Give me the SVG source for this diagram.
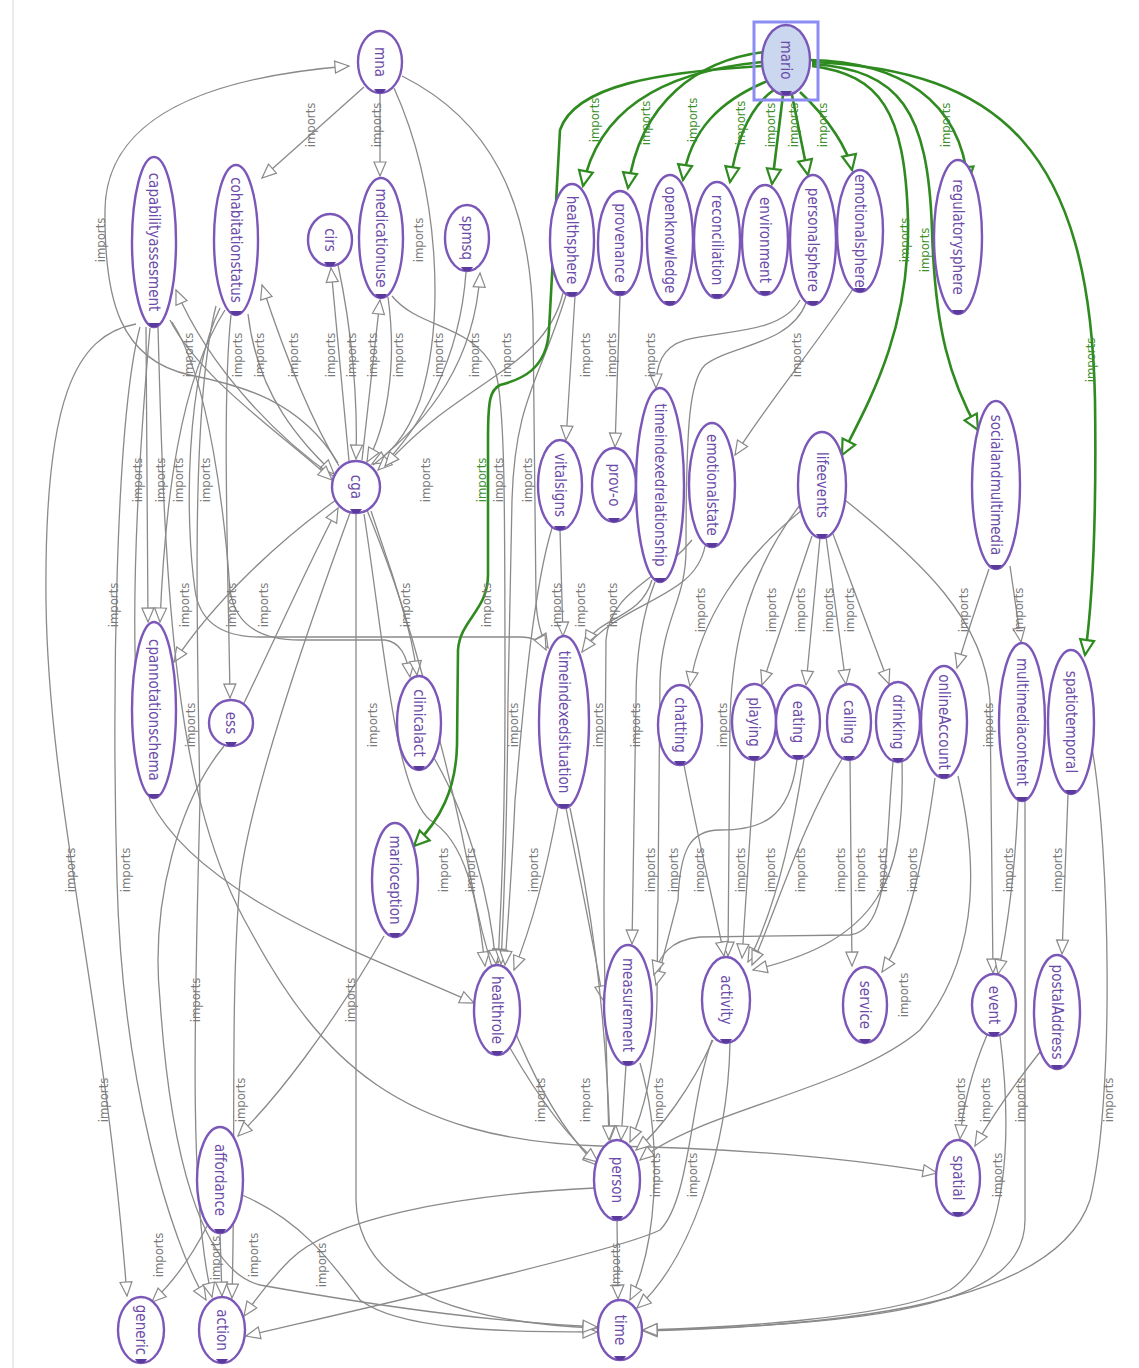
<svg xmlns="http://www.w3.org/2000/svg" width="1139" height="1368" viewBox="0 0 1139 1368">
<style>
.bg{fill:#ffffff}
.n ellipse{fill:#ffffff;stroke:#7b57b8;stroke-width:2.4}
.n .tab{fill:#5b3a9e}
.n text{fill:#6c4ca8;font-family:"DejaVu Sans Condensed","DejaVu Sans","Liberation Sans Narrow",sans-serif;font-stretch:condensed;font-size:15px;text-anchor:middle;dominant-baseline:central}
.e{fill:none;stroke:#8a8a8a;stroke-width:1.3;marker-end:url(#a)}
.g{fill:none;stroke:#2f8a1f;stroke-width:2.6;marker-end:url(#ag)}
.l{fill:#7a7a7a;font-family:"DejaVu Sans Condensed","DejaVu Sans","Liberation Sans Narrow",sans-serif;font-stretch:condensed;font-size:13px;text-anchor:middle;dominant-baseline:central}
.lg{fill:#3d8f2c}
</style>
<defs>
<marker id="a" markerUnits="userSpaceOnUse" markerWidth="16" markerHeight="14" refX="14" refY="6" orient="auto" overflow="visible">
<path d="M0,0 L14,6 L0,12 Z" fill="#ffffff" stroke="#8a8a8a" stroke-width="1.2"/>
</marker>
<marker id="ag" markerUnits="userSpaceOnUse" markerWidth="18" markerHeight="16" refX="15" refY="7" orient="auto" overflow="visible">
<path d="M0,0 L15,7 L0,14 Z" fill="#ffffff" stroke="#2f8a1f" stroke-width="2.2"/>
</marker>
</defs>
<rect class="bg" x="0" y="0" width="1139" height="1368"/>
<line x1="13" y1="0" x2="13" y2="1368" stroke="#d8d8d8" stroke-width="1"/>

<g id="connectors">
<path class="e" d="M338,463 C300,400 240,385 190,375 C120,360 104,300 105,210 C106,120 200,78 349,66"/>
<path class="e" d="M364,87 L262,178"/>
<path class="e" d="M380,93 L380,176"/>
<path class="e" d="M394,88 C440,190 445,320 420,400 C405,440 388,455 372,464"/>
<path class="e" d="M402,76 C490,120 530,200 533,320 L536,600 C537,625 542,638 548,648"/>
<path class="e" d="M349,461 L331,268"/>
<path class="e" d="M338,265 C352,330 358,400 356,459"/>
<path class="e" d="M362,460 L380,300"/>
<path class="e" d="M388,297 C398,370 385,430 367,462"/>
<path class="e" d="M392,296 C420,330 470,322 495,370 C505,400 505,500 505,700 C505,850 500,920 498,963"/>
<path class="e" d="M373,465 C430,420 475,360 480,273"/>
<path class="e" d="M466,272 C460,360 420,430 378,470"/>
<path class="e" d="M339,466 C305,410 280,340 262,285"/>
<path class="e" d="M248,314 C258,400 305,445 334,474"/>
<path class="e" d="M333,476 C280,440 210,370 176,290"/>
<path class="e" d="M170,320 C200,380 290,440 332,480"/>
<path class="e" d="M146,327 L148,622"/>
<path class="e" d="M225,310 C180,380 165,500 160,622"/>
<path class="e" d="M220,308 C185,380 185,520 195,590 C200,625 225,637 260,637 L520,637 C535,637 542,642 546,650"/>
<path class="e" d="M172,322 C210,380 225,520 230,590 C235,625 260,640 300,640 L385,640 C400,642 407,655 410,677"/>
<path class="e" d="M231,315 C222,400 228,560 230,698"/>
<path class="e" d="M244,703 C270,650 310,560 338,508"/>
<path class="e" d="M336,500 C280,540 215,600 174,662"/>
<path class="e" d="M136,324 C75,335 44,400 46,600 C48,800 105,1000 127,1296"/>
<path class="e" d="M140,327 C115,420 112,700 117,880 C122,1080 170,1240 206,1300"/>
<path class="e" d="M150,328 C135,500 125,700 150,800 C200,900 380,960 474,1003"/>
<path class="e" d="M158,327 C165,600 175,800 250,930 C320,1060 400,1140 600,1146 C750,1148 860,1160 937,1173"/>
<path class="e" d="M216,306 C192,400 196,600 200,800 C195,1000 188,1200 212,1297"/>
<path class="e" d="M350,513 C300,650 250,800 240,880 C230,1000 236,1150 232,1298"/>
<path class="e" d="M356,514 L356,1200 C358,1285 450,1322 597,1328"/>
<path class="e" d="M367,510 C395,580 412,630 417,675"/>
<path class="e" d="M364,514 C385,650 395,790 430,820 C465,840 478,900 485,966"/>
<path class="e" d="M371,511 C430,680 460,820 475,900 C500,1020 550,1120 597,1165"/>
<path class="e" d="M434,758 C470,820 490,900 496,964"/>
<path class="e" d="M563,293 C545,370 460,380 385,466"/>
<path class="e" d="M575,296 L566,440"/>
<path class="e" d="M566,295 C540,380 515,400 512,500 L508,700 C507,850 503,920 501,964"/>
<path class="e" d="M620,295 L615,447"/>
<path class="e" d="M800,300 C780,335 720,330 685,340 C662,347 656,365 656,388"/>
<path class="e" d="M806,303 C790,345 730,345 705,365 C690,380 686,420 686,550 C686,600 662,620 660,680 L657,1000 C655,1080 640,1120 630,1142"/>
<path class="e" d="M853,289 C820,340 770,400 735,455"/>
<path class="e" d="M560,530 L563,636"/>
<path class="e" d="M552,528 C530,600 520,750 515,800 C512,870 508,920 505,965"/>
<path class="e" d="M652,580 C640,620 600,615 585,645"/>
<path class="e" d="M705,546 C695,600 620,600 582,652"/>
<path class="e" d="M566,808 C580,880 595,950 603,1000"/>
<path class="e" d="M558,807 C545,880 530,930 514,970"/>
<path class="e" d="M570,808 C590,900 605,1000 610,1140"/>
<path class="e" d="M655,582 C640,620 636,660 636,700 L632,944"/>
<path class="e" d="M692,540 C660,580 610,590 606,640 L604,900 C604,1000 608,1100 609,1140"/>
<path class="e" d="M797,759 C790,820 760,830 720,830 C690,830 680,850 678,900 L656,985"/>
<path class="e" d="M893,762 C885,850 890,930 850,935 L700,937 C670,940 660,955 654,975"/>
<path class="e" d="M802,510 C740,560 700,620 690,686"/>
<path class="e" d="M812,536 L762,685"/>
<path class="e" d="M820,538 L806,685"/>
<path class="e" d="M826,537 L846,684"/>
<path class="e" d="M833,534 L889,684"/>
<path class="e" d="M800,505 C750,570 732,640 730,720 L728,956"/>
<path class="e" d="M845,500 C920,560 985,620 990,700 L993,973"/>
<path class="e" d="M684,765 C700,850 718,920 724,956"/>
<path class="e" d="M755,760 L742,958"/>
<path class="e" d="M804,759 C790,850 770,920 748,962"/>
<path class="e" d="M842,759 C800,830 780,900 752,965"/>
<path class="e" d="M902,762 C905,880 880,940 753,970"/>
<path class="e" d="M850,760 L852,966"/>
<path class="e" d="M935,778 C925,850 910,930 882,972"/>
<path class="e" d="M958,776 C975,850 985,950 920,1030 C850,1090 700,1110 640,1160"/>
<path class="e" d="M989,569 C975,610 965,640 957,668"/>
<path class="e" d="M1010,566 L1021,642"/>
<path class="e" d="M1018,801 C1015,880 1005,940 998,974"/>
<path class="e" d="M1025,801 L1025,1220 C1025,1300 900,1325 643,1330"/>
<path class="e" d="M1068,794 L1062,954"/>
<path class="e" d="M1092,748 C1110,850 1115,1100 1090,1200 C1060,1290 900,1325 643,1331"/>
<path class="e" d="M1040,1052 C1010,1090 990,1120 975,1146"/>
<path class="e" d="M987,1035 C972,1070 962,1110 960,1139"/>
<path class="e" d="M1000,1036 C1012,1130 1010,1250 950,1290 C880,1320 720,1328 643,1330"/>
<path class="e" d="M510,1048 C540,1100 570,1140 598,1162"/>
<path class="e" d="M626,1065 L621,1140"/>
<path class="e" d="M713,1040 C690,1090 660,1130 636,1150"/>
<path class="e" d="M730,1043 C728,1150 690,1260 637,1308"/>
<path class="e" d="M640,1063 C665,1150 655,1250 630,1300"/>
<path class="e" d="M617,1220 L618,1299"/>
<path class="e" d="M595,1188 C450,1195 330,1220 290,1260 C270,1280 255,1300 244,1316"/>
<path class="e" d="M712,1040 C690,1100 690,1200 660,1230 C620,1250 400,1300 246,1336"/>
<path class="e" d="M207,1226 C190,1260 170,1285 152,1302"/>
<path class="e" d="M220,1233 L222,1296"/>
<path class="e" d="M242,1195 C300,1220 330,1260 360,1300 C400,1330 500,1332 597,1332"/>
<path class="e" d="M384,936 C330,1030 275,1100 238,1136"/>
<path class="e" d="M224,746 C180,800 150,900 160,1000 C170,1150 200,1270 260,1285 C400,1310 500,1322 597,1327"/>

<path class="g" d="M762,62 C680,70 600,100 583,186"/>
<path class="g" d="M764,52 C700,60 640,100 628,188"/>
<path class="g" d="M770,80 C720,100 690,130 683,180"/>
<path class="g" d="M775,89 C745,110 735,150 730,182"/>
<path class="g" d="M783,95 L772,184"/>
<path class="g" d="M792,95 L808,175"/>
<path class="g" d="M800,92 C830,120 848,150 852,170"/>
<path class="g" d="M810,60 C900,62 960,100 968,182"/>
<path class="g" d="M812,66 C880,75 905,110 908,220 C910,330 870,400 842,455"/>
<path class="g" d="M812,64 C900,70 928,110 932,230 C935,330 950,380 978,430"/>
<path class="g" d="M812,62 C1000,70 1090,150 1095,400 C1097,550 1090,620 1085,655"/>
<path class="g" d="M762,66 C660,72 575,85 560,130 L549,330 C547,370 520,380 500,385 C490,390 488,400 488,440 L488,575 C488,610 460,620 458,650 L457,745 C456,790 440,820 414,846"/>
</g>

<g id="edge-labels">
<text class="l" x="310" y="125" transform="rotate(-90 310 125)">imports</text>
<text class="l" x="376" y="125" transform="rotate(-90 376 125)">imports</text>
<text class="l" x="100" y="240" transform="rotate(-90 100 240)">imports</text>
<text class="l" x="418" y="240" transform="rotate(-90 418 240)">imports</text>
<text class="l" x="188" y="355" transform="rotate(-90 188 355)">imports</text>
<text class="l" x="237" y="355" transform="rotate(-90 237 355)">imports</text>
<text class="l" x="259" y="355" transform="rotate(-90 259 355)">imports</text>
<text class="l" x="293" y="355" transform="rotate(-90 293 355)">imports</text>
<text class="l" x="330" y="355" transform="rotate(-90 330 355)">imports</text>
<text class="l" x="351" y="355" transform="rotate(-90 351 355)">imports</text>
<text class="l" x="372" y="355" transform="rotate(-90 372 355)">imports</text>
<text class="l" x="398" y="355" transform="rotate(-90 398 355)">imports</text>
<text class="l" x="438" y="355" transform="rotate(-90 438 355)">imports</text>
<text class="l" x="474" y="355" transform="rotate(-90 474 355)">imports</text>
<text class="l" x="506" y="355" transform="rotate(-90 506 355)">imports</text>
<text class="l" x="585" y="355" transform="rotate(-90 585 355)">imports</text>
<text class="l" x="611" y="355" transform="rotate(-90 611 355)">imports</text>
<text class="l" x="650" y="355" transform="rotate(-90 650 355)">imports</text>
<text class="l" x="796" y="355" transform="rotate(-90 796 355)">imports</text>
<text class="l" x="137" y="480" transform="rotate(-90 137 480)">imports</text>
<text class="l" x="160" y="480" transform="rotate(-90 160 480)">imports</text>
<text class="l" x="178" y="480" transform="rotate(-90 178 480)">imports</text>
<text class="l" x="205" y="480" transform="rotate(-90 205 480)">imports</text>
<text class="l" x="425" y="480" transform="rotate(-90 425 480)">imports</text>
<text class="l" x="498" y="480" transform="rotate(-90 498 480)">imports</text>
<text class="l" x="527" y="480" transform="rotate(-90 527 480)">imports</text>
<text class="l" x="113" y="605" transform="rotate(-90 113 605)">imports</text>
<text class="l" x="184" y="605" transform="rotate(-90 184 605)">imports</text>
<text class="l" x="231" y="605" transform="rotate(-90 231 605)">imports</text>
<text class="l" x="263" y="605" transform="rotate(-90 263 605)">imports</text>
<text class="l" x="405" y="605" transform="rotate(-90 405 605)">imports</text>
<text class="l" x="486" y="605" transform="rotate(-90 486 605)">imports</text>
<text class="l" x="556" y="605" transform="rotate(-90 556 605)">imports</text>
<text class="l" x="580" y="605" transform="rotate(-90 580 605)">imports</text>
<text class="l" x="612" y="605" transform="rotate(-90 612 605)">imports</text>
<text class="l" x="700" y="610" transform="rotate(-90 700 610)">imports</text>
<text class="l" x="771" y="610" transform="rotate(-90 771 610)">imports</text>
<text class="l" x="800" y="610" transform="rotate(-90 800 610)">imports</text>
<text class="l" x="828" y="610" transform="rotate(-90 828 610)">imports</text>
<text class="l" x="849" y="610" transform="rotate(-90 849 610)">imports</text>
<text class="l" x="963" y="610" transform="rotate(-90 963 610)">imports</text>
<text class="l" x="1018" y="610" transform="rotate(-90 1018 610)">imports</text>
<text class="l" x="190" y="725" transform="rotate(-90 190 725)">imports</text>
<text class="l" x="372" y="725" transform="rotate(-90 372 725)">imports</text>
<text class="l" x="513" y="725" transform="rotate(-90 513 725)">imports</text>
<text class="l" x="598" y="725" transform="rotate(-90 598 725)">imports</text>
<text class="l" x="635" y="725" transform="rotate(-90 635 725)">imports</text>
<text class="l" x="722" y="725" transform="rotate(-90 722 725)">imports</text>
<text class="l" x="988" y="725" transform="rotate(-90 988 725)">imports</text>
<text class="l" x="70" y="870" transform="rotate(-90 70 870)">imports</text>
<text class="l" x="125" y="870" transform="rotate(-90 125 870)">imports</text>
<text class="l" x="443" y="870" transform="rotate(-90 443 870)">imports</text>
<text class="l" x="470" y="870" transform="rotate(-90 470 870)">imports</text>
<text class="l" x="533" y="870" transform="rotate(-90 533 870)">imports</text>
<text class="l" x="650" y="870" transform="rotate(-90 650 870)">imports</text>
<text class="l" x="673" y="870" transform="rotate(-90 673 870)">imports</text>
<text class="l" x="699" y="870" transform="rotate(-90 699 870)">imports</text>
<text class="l" x="740" y="870" transform="rotate(-90 740 870)">imports</text>
<text class="l" x="770" y="870" transform="rotate(-90 770 870)">imports</text>
<text class="l" x="800" y="870" transform="rotate(-90 800 870)">imports</text>
<text class="l" x="840" y="870" transform="rotate(-90 840 870)">imports</text>
<text class="l" x="860" y="870" transform="rotate(-90 860 870)">imports</text>
<text class="l" x="882" y="870" transform="rotate(-90 882 870)">imports</text>
<text class="l" x="912" y="870" transform="rotate(-90 912 870)">imports</text>
<text class="l" x="1008" y="870" transform="rotate(-90 1008 870)">imports</text>
<text class="l" x="1057" y="870" transform="rotate(-90 1057 870)">imports</text>
<text class="l" x="195" y="1000" transform="rotate(-90 195 1000)">imports</text>
<text class="l" x="350" y="1000" transform="rotate(-90 350 1000)">imports</text>
<text class="l" x="903" y="995" transform="rotate(-90 903 995)">imports</text>
<text class="l" x="103" y="1100" transform="rotate(-90 103 1100)">imports</text>
<text class="l" x="240" y="1100" transform="rotate(-90 240 1100)">imports</text>
<text class="l" x="540" y="1100" transform="rotate(-90 540 1100)">imports</text>
<text class="l" x="585" y="1100" transform="rotate(-90 585 1100)">imports</text>
<text class="l" x="658" y="1100" transform="rotate(-90 658 1100)">imports</text>
<text class="l" x="960" y="1100" transform="rotate(-90 960 1100)">imports</text>
<text class="l" x="985" y="1100" transform="rotate(-90 985 1100)">imports</text>
<text class="l" x="1020" y="1100" transform="rotate(-90 1020 1100)">imports</text>
<text class="l" x="1108" y="1100" transform="rotate(-90 1108 1100)">imports</text>
<text class="l" x="655" y="1175" transform="rotate(-90 655 1175)">imports</text>
<text class="l" x="692" y="1175" transform="rotate(-90 692 1175)">imports</text>
<text class="l" x="997" y="1175" transform="rotate(-90 997 1175)">imports</text>
<text class="l" x="158" y="1255" transform="rotate(-90 158 1255)">imports</text>
<text class="l" x="215" y="1258" transform="rotate(-90 215 1258)">imports</text>
<text class="l" x="253" y="1255" transform="rotate(-90 253 1255)">imports</text>
<text class="l" x="321" y="1265" transform="rotate(-90 321 1265)">imports</text>
<text class="l" x="615" y="1265" transform="rotate(-90 615 1265)">imports</text>
<text class="l lg" x="594" y="120" transform="rotate(-90 594 120)">imports</text>
<text class="l lg" x="645" y="123" transform="rotate(-90 645 123)">imports</text>
<text class="l lg" x="692" y="120" transform="rotate(-90 692 120)">imports</text>
<text class="l lg" x="740" y="123" transform="rotate(-90 740 123)">imports</text>
<text class="l lg" x="770" y="125" transform="rotate(-90 770 125)">imports</text>
<text class="l lg" x="793" y="125" transform="rotate(-90 793 125)">imports</text>
<text class="l lg" x="822" y="125" transform="rotate(-90 822 125)">imports</text>
<text class="l lg" x="945" y="125" transform="rotate(-90 945 125)">imports</text>
<text class="l lg" x="904" y="240" transform="rotate(-90 904 240)">imports</text>
<text class="l lg" x="924" y="250" transform="rotate(-90 924 250)">imports</text>
<text class="l lg" x="1090" y="360" transform="rotate(-90 1090 360)">imports</text>
<text class="l lg" x="481" y="480" transform="rotate(-90 481 480)">imports</text>
</g>

<g id="node-mna" class="n"><ellipse cx="380" cy="62" rx="22" ry="31"/><path class="tab" d="M374,89 L386,89 L383,93 L377,93Z"/><text x="380" y="62" transform="rotate(90 380 62)">mna</text></g>
<g id="node-mario" class="n"><rect x="754" y="22" width="64" height="78" fill="none" stroke="#8c8cf5" stroke-width="3"/><ellipse cx="786" cy="60" rx="24" ry="35" style="fill:#cad7ef"/><path class="tab" d="M780,91 L792,91 L789,95 L783,95Z"/><text x="786" y="60" transform="rotate(90 786 60)">mario</text></g>
<g id="node-capabilityassesment" class="n"><ellipse cx="154" cy="242" rx="22" ry="85"/><path class="tab" d="M148,323 L160,323 L157,327 L151,327Z"/><text x="154" y="242" transform="rotate(90 154 242)">capabilityassesment</text></g>
<g id="node-cohabitationstatus" class="n"><ellipse cx="236" cy="240" rx="22" ry="75"/><path class="tab" d="M230,311 L242,311 L239,315 L233,315Z"/><text x="236" y="240" transform="rotate(90 236 240)">cohabitationstatus</text></g>
<g id="node-cirs" class="n"><ellipse cx="330" cy="240" rx="22" ry="26"/><path class="tab" d="M324,262 L336,262 L333,266 L327,266Z"/><text x="330" y="240" transform="rotate(90 330 240)">cirs</text></g>
<g id="node-medicationuse" class="n"><ellipse cx="381" cy="238" rx="22" ry="60"/><path class="tab" d="M375,294 L387,294 L384,298 L378,298Z"/><text x="381" y="238" transform="rotate(90 381 238)">medicationuse</text></g>
<g id="node-spmsq" class="n"><ellipse cx="467" cy="238" rx="22" ry="33"/><path class="tab" d="M461,267 L473,267 L470,271 L464,271Z"/><text x="467" y="238" transform="rotate(90 467 238)">spmsq</text></g>
<g id="node-healthsphere" class="n"><ellipse cx="572" cy="240" rx="22" ry="56"/><path class="tab" d="M566,292 L578,292 L575,296 L569,296Z"/><text x="572" y="240" transform="rotate(90 572 240)">healthsphere</text></g>
<g id="node-provenance" class="n"><ellipse cx="620" cy="243" rx="22" ry="52"/><path class="tab" d="M614,291 L626,291 L623,295 L617,295Z"/><text x="620" y="243" transform="rotate(90 620 243)">provenance</text></g>
<g id="node-openknowledge" class="n"><ellipse cx="670" cy="240" rx="23" ry="65"/><path class="tab" d="M664,301 L676,301 L673,305 L667,305Z"/><text x="670" y="240" transform="rotate(90 670 240)">openknowledge</text></g>
<g id="node-reconciliation" class="n"><ellipse cx="717" cy="240" rx="23" ry="58"/><path class="tab" d="M711,294 L723,294 L720,298 L714,298Z"/><text x="717" y="240" transform="rotate(90 717 240)">reconciliation</text></g>
<g id="node-environment" class="n"><ellipse cx="765" cy="240" rx="23" ry="55"/><path class="tab" d="M759,291 L771,291 L768,295 L762,295Z"/><text x="765" y="240" transform="rotate(90 765 240)">environment</text></g>
<g id="node-personalsphere" class="n"><ellipse cx="813" cy="240" rx="23" ry="65"/><path class="tab" d="M807,301 L819,301 L816,305 L810,305Z"/><text x="813" y="240" transform="rotate(90 813 240)">personalsphere</text></g>
<g id="node-emotionalsphere" class="n"><ellipse cx="860" cy="231" rx="23" ry="61"/><path class="tab" d="M854,288 L866,288 L863,292 L857,292Z"/><text x="860" y="231" transform="rotate(90 860 231)">emotionalsphere</text></g>
<g id="node-regulatorysphere" class="n"><ellipse cx="958" cy="237" rx="24" ry="77"/><path class="tab" d="M952,310 L964,310 L961,314 L955,314Z"/><text x="958" y="237" transform="rotate(90 958 237)">regulatorysphere</text></g>
<g id="node-cga" class="n"><ellipse cx="356" cy="487" rx="24" ry="26"/><path class="tab" d="M350,509 L362,509 L359,513 L353,513Z"/><text x="356" y="487" transform="rotate(90 356 487)">cga</text></g>
<g id="node-vitalsigns" class="n"><ellipse cx="560" cy="485" rx="22" ry="45"/><path class="tab" d="M554,526 L566,526 L563,530 L557,530Z"/><text x="560" y="485" transform="rotate(90 560 485)">vitalsigns</text></g>
<g id="node-prov-o" class="n"><ellipse cx="614" cy="485" rx="22" ry="37"/><path class="tab" d="M608,518 L620,518 L617,522 L611,522Z"/><text x="614" y="485" transform="rotate(90 614 485)">prov-o</text></g>
<g id="node-timeindexedrelationship" class="n"><ellipse cx="660" cy="485" rx="24" ry="97"/><path class="tab" d="M654,578 L666,578 L663,582 L657,582Z"/><text x="660" y="485" transform="rotate(90 660 485)">timeindexedrelationship</text></g>
<g id="node-emotionalstate" class="n"><ellipse cx="712" cy="485" rx="23" ry="62"/><path class="tab" d="M706,543 L718,543 L715,547 L709,547Z"/><text x="712" y="485" transform="rotate(90 712 485)">emotionalstate</text></g>
<g id="node-lifeevents" class="n"><ellipse cx="822" cy="485" rx="24" ry="53"/><path class="tab" d="M816,534 L828,534 L825,538 L819,538Z"/><text x="822" y="485" transform="rotate(90 822 485)">lifeevents</text></g>
<g id="node-socialandmultimedia" class="n"><ellipse cx="996" cy="485" rx="24" ry="84"/><path class="tab" d="M990,565 L1002,565 L999,569 L993,569Z"/><text x="996" y="485" transform="rotate(90 996 485)">socialandmultimedia</text></g>
<g id="node-cpannotationschema" class="n"><ellipse cx="154" cy="710" rx="22" ry="88"/><path class="tab" d="M148,794 L160,794 L157,798 L151,798Z"/><text x="154" y="710" transform="rotate(90 154 710)">cpannotationschema</text></g>
<g id="node-ess" class="n"><ellipse cx="231" cy="723" rx="22" ry="23"/><path class="tab" d="M225,742 L237,742 L234,746 L228,746Z"/><text x="231" y="723" transform="rotate(90 231 723)">ess</text></g>
<g id="node-clinicalact" class="n"><ellipse cx="419" cy="723" rx="22" ry="47"/><path class="tab" d="M413,766 L425,766 L422,770 L416,770Z"/><text x="419" y="723" transform="rotate(90 419 723)">clinicalact</text></g>
<g id="node-timeindexedsituation" class="n"><ellipse cx="564" cy="722" rx="25" ry="86"/><path class="tab" d="M558,804 L570,804 L567,808 L561,808Z"/><text x="564" y="722" transform="rotate(90 564 722)">timeindexedsituation</text></g>
<g id="node-chatting" class="n"><ellipse cx="680" cy="725" rx="22" ry="40"/><path class="tab" d="M674,761 L686,761 L683,765 L677,765Z"/><text x="680" y="725" transform="rotate(90 680 725)">chatting</text></g>
<g id="node-playing" class="n"><ellipse cx="754" cy="722" rx="22" ry="38"/><path class="tab" d="M748,756 L760,756 L757,760 L751,760Z"/><text x="754" y="722" transform="rotate(90 754 722)">playing</text></g>
<g id="node-eating" class="n"><ellipse cx="798" cy="722" rx="22" ry="37"/><path class="tab" d="M792,755 L804,755 L801,759 L795,759Z"/><text x="798" y="722" transform="rotate(90 798 722)">eating</text></g>
<g id="node-calling" class="n"><ellipse cx="849" cy="722" rx="22" ry="38"/><path class="tab" d="M843,756 L855,756 L852,760 L846,760Z"/><text x="849" y="722" transform="rotate(90 849 722)">calling</text></g>
<g id="node-drinking" class="n"><ellipse cx="898" cy="722" rx="22" ry="40"/><path class="tab" d="M892,758 L904,758 L901,762 L895,762Z"/><text x="898" y="722" transform="rotate(90 898 722)">drinking</text></g>
<g id="node-onlineAccount" class="n"><ellipse cx="944" cy="722" rx="23" ry="56"/><path class="tab" d="M938,774 L950,774 L947,778 L941,778Z"/><text x="944" y="722" transform="rotate(90 944 722)">onlineAccount</text></g>
<g id="node-multimediacontent" class="n"><ellipse cx="1022" cy="722" rx="23" ry="79"/><path class="tab" d="M1016,797 L1028,797 L1025,801 L1019,801Z"/><text x="1022" y="722" transform="rotate(90 1022 722)">multimediacontent</text></g>
<g id="node-spatiotemporal" class="n"><ellipse cx="1071" cy="722" rx="23" ry="72"/><path class="tab" d="M1065,790 L1077,790 L1074,794 L1068,794Z"/><text x="1071" y="722" transform="rotate(90 1071 722)">spatiotemporal</text></g>
<g id="node-marioception" class="n"><ellipse cx="395" cy="880" rx="23" ry="57"/><path class="tab" d="M389,933 L401,933 L398,937 L392,937Z"/><text x="395" y="880" transform="rotate(90 395 880)">marioception</text></g>
<g id="node-healthrole" class="n"><ellipse cx="497" cy="1010" rx="23" ry="45"/><path class="tab" d="M491,1051 L503,1051 L500,1055 L494,1055Z"/><text x="497" y="1010" transform="rotate(90 497 1010)">healthrole</text></g>
<g id="node-measurement" class="n"><ellipse cx="628" cy="1005" rx="24" ry="60"/><path class="tab" d="M622,1061 L634,1061 L631,1065 L625,1065Z"/><text x="628" y="1005" transform="rotate(90 628 1005)">measurement</text></g>
<g id="node-activity" class="n"><ellipse cx="726" cy="1000" rx="24" ry="43"/><path class="tab" d="M720,1039 L732,1039 L729,1043 L723,1043Z"/><text x="726" y="1000" transform="rotate(90 726 1000)">activity</text></g>
<g id="node-service" class="n"><ellipse cx="865" cy="1005" rx="22" ry="38"/><path class="tab" d="M859,1039 L871,1039 L868,1043 L862,1043Z"/><text x="865" y="1005" transform="rotate(90 865 1005)">service</text></g>
<g id="node-event" class="n"><ellipse cx="994" cy="1005" rx="22" ry="31"/><path class="tab" d="M988,1032 L1000,1032 L997,1036 L991,1036Z"/><text x="994" y="1005" transform="rotate(90 994 1005)">event</text></g>
<g id="node-postalAddress" class="n"><ellipse cx="1057" cy="1012" rx="23" ry="57"/><path class="tab" d="M1051,1065 L1063,1065 L1060,1069 L1054,1069Z"/><text x="1057" y="1012" transform="rotate(90 1057 1012)">postalAddress</text></g>
<g id="node-affordance" class="n"><ellipse cx="220" cy="1180" rx="23" ry="53"/><path class="tab" d="M214,1229 L226,1229 L223,1233 L217,1233Z"/><text x="220" y="1180" transform="rotate(90 220 1180)">affordance</text></g>
<g id="node-person" class="n"><ellipse cx="617" cy="1180" rx="23" ry="40"/><path class="tab" d="M611,1216 L623,1216 L620,1220 L614,1220Z"/><text x="617" y="1180" transform="rotate(90 617 1180)">person</text></g>
<g id="node-spatial" class="n"><ellipse cx="958" cy="1178" rx="22" ry="38"/><path class="tab" d="M952,1212 L964,1212 L961,1216 L955,1216Z"/><text x="958" y="1178" transform="rotate(90 958 1178)">spatial</text></g>
<g id="node-generic" class="n"><ellipse cx="141" cy="1330" rx="23" ry="33"/><path class="tab" d="M135,1359 L147,1359 L144,1363 L138,1363Z"/><text x="141" y="1330" transform="rotate(90 141 1330)">generic</text></g>
<g id="node-action" class="n"><ellipse cx="222" cy="1330" rx="23" ry="33"/><path class="tab" d="M216,1359 L228,1359 L225,1363 L219,1363Z"/><text x="222" y="1330" transform="rotate(90 222 1330)">action</text></g>
<g id="node-time" class="n"><ellipse cx="620" cy="1330" rx="22" ry="30"/><path class="tab" d="M614,1356 L626,1356 L623,1360 L617,1360Z"/><text x="620" y="1330" transform="rotate(90 620 1330)">time</text></g>
</svg>
